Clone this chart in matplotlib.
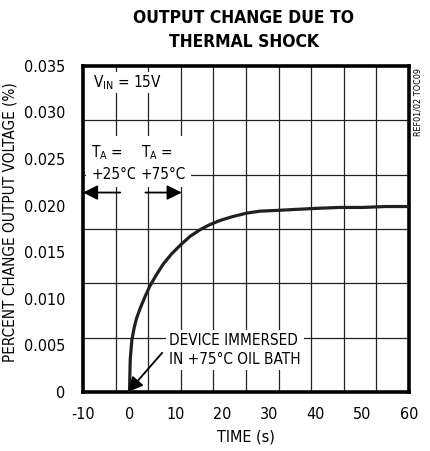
import numpy as np
import matplotlib
matplotlib.use("Agg")
import matplotlib.pyplot as plt
from matplotlib.ticker import FixedLocator

plt.rcParams['font.family'] = ['DejaVu Sans']
plt.rcParams['font.stretch'] = 'condensed'
plt.rcParams['axes.unicode_minus'] = False

# curve
time_s = [0, 0.05, 0.15, 0.5, 1.0, 1.5, 2.3, 3.3, 4.4, 5.8, 7.2, 9.0, 11.0, 13.0,
          15.1, 17.0, 19.4, 22.0, 25.2, 28.0, 32.3, 36.0, 40.0, 45.0, 50.0, 55.0, 60.0]
pct_change = [0, 0.0015, 0.0035, 0.0056, 0.0069, 0.0079, 0.0090, 0.0102, 0.0114, 0.0126,
              0.0137, 0.0148, 0.0158, 0.0167, 0.0174, 0.0179, 0.0184, 0.0188, 0.0192,
              0.0194, 0.0195, 0.0196, 0.0197, 0.0198, 0.0198, 0.0199, 0.0199]

xticks = [-10, 0, 10, 20, 30, 40, 50, 60]
yticks = [0, 0.005, 0.010, 0.015, 0.020, 0.025, 0.030, 0.035]
ytick_labels = ['0', '0.005', '0.010', '0.015', '0.020', '0.025', '0.030', '0.035']

fig = plt.figure(figsize=(4.3, 4.51), dpi=100)
ax = fig.add_axes([0.193, 0.131, 0.758, 0.723])

ax.plot(time_s, pct_change, color='#231f20', lw=2.3, solid_capstyle='butt', zorder=3)

ax.set_xlim(-10, 60)
ax.set_ylim(0, 0.035)
ax.set_xticks(xticks)
ax.set_yticks(yticks)
ax.set_yticklabels(ytick_labels)
ax.tick_params(length=0, labelsize=11.5)
ax.tick_params(axis='x', pad=11)
ax.tick_params(axis='y', pad=12.5)

# grid is 10 x 6 divisions, independent of the tick labels
ax.xaxis.set_minor_locator(FixedLocator(np.linspace(-10, 60, 11)))
ax.yaxis.set_minor_locator(FixedLocator(np.linspace(0, 0.035, 7)))
ax.tick_params(which='minor', length=0)
ax.grid(which='minor', color='#222222', lw=0.9)
ax.grid(which='major', visible=False)
ax.set_axisbelow(True)

for s in ax.spines.values():
    s.set_linewidth(2.6)

ax.set_xlabel('TIME (s)', fontsize=11.5, labelpad=5)
ax.set_ylabel('PERCENT CHANGE OUTPUT VOLTAGE (%)', fontsize=11)
ax.yaxis.set_label_coords(-0.2, 0.52)

fig.text(0.567, 0.960, 'OUTPUT CHANGE DUE TO', ha='center', va='center',
         fontsize=12.5, fontweight='heavy')
fig.text(0.567, 0.907, 'THERMAL SHOCK', ha='center', va='center',
         fontsize=12.5, fontweight='heavy')
fig.text(0.972, 0.849, 'REF01/02 TOC09', rotation=90, ha='center', va='top', fontsize=6.5)

ax.text(-7.8, 0.0332, r'V$_{\mathregular{IN}}$ = 15V', fontsize=11, va='center',
        ha='left', bbox=dict(facecolor='white', edgecolor='none', pad=1), zorder=4)

tbox = dict(facecolor='white', edgecolor='none', pad=4)
ax.text(-8.2, 0.0246, 'T$_{\\mathregular{A}}$ =\n+25°C', fontsize=11, va='center',
        ha='left', linespacing=1.4, bbox=tbox, zorder=4)
ax.text(2.4, 0.0246, 'T$_{\\mathregular{A}}$ =\n+75°C', fontsize=11, va='center',
        ha='left', linespacing=1.4, bbox=tbox, zorder=4)

arr = dict(arrowstyle='-|>', mutation_scale=22, lw=1.3, color='black', shrinkA=0, shrinkB=0)
ax.annotate('', xy=(-10, 0.0214), xytext=(-2.0, 0.0214), arrowprops=arr, zorder=5)
ax.annotate('', xy=(11.2, 0.0214), xytext=(3.4, 0.0214), arrowprops=arr, zorder=5)

ax.text(8.5, 0.0045, 'DEVICE IMMERSED\nIN +75°C OIL BATH', fontsize=11, va='center',
        ha='left', linespacing=1.3, bbox=dict(facecolor='white', edgecolor='none', pad=2),
        zorder=4)
ax.annotate('', xy=(-0.3, 0.0), xytext=(7.0, 0.0042), arrowprops=arr, zorder=5)

fig.savefig('out.png', dpi=100)
